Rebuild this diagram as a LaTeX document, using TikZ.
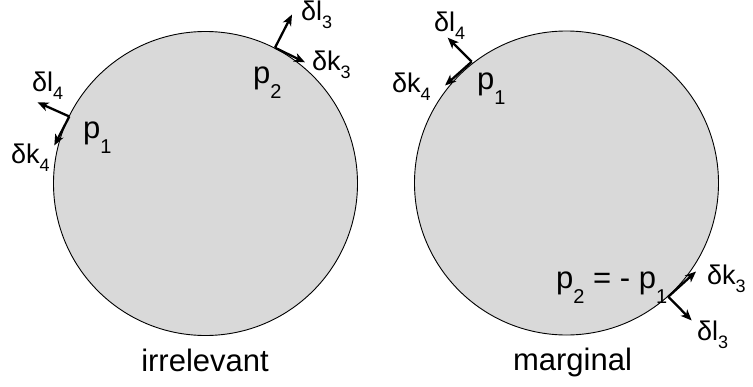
\documentclass[tikz,border=0pt]{standalone}
\usepackage{fontspec}
\setmainfont{Liberation Sans}
\usetikzlibrary{arrows.meta}
\definecolor{discfill}{RGB}{217,217,217}
\newcommand\dsub[1]{\raisebox{-0.3em}{\fontsize{18}{18}\selectfont #1}}
\newcommand\psub[1]{\raisebox{-0.5em}{\fontsize{20}{20}\selectfont #1}}
\begin{document}
\begin{tikzpicture}[x=1pt,y=-1pt,
  disc/.style={draw=black,line width=0.9pt,fill=discfill},
  vec/.style={line width=2.3pt,-{Stealth[length=11pt,width=9pt,inset=3pt]}},
  dlab/.style={inner sep=0pt,anchor=base west,font=\fontsize{27}{27}\selectfont},
  plab/.style={inner sep=0pt,anchor=base west,font=\fontsize{31}{31}\selectfont},
  captext/.style={inner sep=0pt,anchor=base,font=\fontsize{31}{31}\selectfont}]
\useasboundingbox (0,0) rectangle (753,386);
% discs
\node[disc,circle,minimum size=304pt,inner sep=0pt] (L) at (205.5,183.5) {};
\node[disc,circle,minimum size=304pt,inner sep=0pt] (R) at (566.5,183) {};
% left disc vectors
\coordinate (lp2) at (275,47.7);
\coordinate (ll3) at (292,14.5);
\coordinate (lk3) at (305,62.3);
\coordinate (lp1) at (69.3,116.5);
\coordinate (ll4) at (37.5,102.3);
\coordinate (lk4) at (54.3,145.5);
\draw[vec] (lp2) -- (ll3);
\draw[vec] (lp2) -- (lk3);
\draw[vec] (lp1) -- (ll4);
\draw[vec] (lp1) -- (lk4);
% right disc vectors
\coordinate (rp1) at (471.7,61.7);
\coordinate (rl4) at (447.7,37.7);
\coordinate (rk4) at (445,85.5);
\coordinate (rp2) at (668.3,296.7);
\coordinate (rk3) at (696,271.5);
\coordinate (rl3) at (691.7,320.5);
\draw[vec] (rp1) -- (rl4);
\draw[vec] (rp1) -- (rk4);
\draw[vec] (rp2) -- (rk3);
\draw[vec] (rp2) -- (rl3);
% left labels
\node[dlab] (tl3) at (301,20) {δl\dsub{3}};
\node[dlab] (tk3) at (312,70) {δk\dsub{3}};
\node[plab] (tp2) at (253,83) {p\psub{2}};
\node[dlab] (tl4) at (32,91) {δl\dsub{4}};
\node[dlab] (tk4) at (11,163) {δk\dsub{4}};
\node[plab] (tp1) at (83,138) {p\psub{1}};
\node[captext] (irr) at (205,371.5) {irrelevant};
% right labels
\node[dlab] (tl4r) at (434,31) {δl\dsub{4}};
\node[dlab] (tk4r) at (392,92) {δk\dsub{4}};
\node[plab] (tp1r) at (477,89) {p\psub{1}};
\node[plab] (tp2r) at (556,288) {p\psub{2} = - p\psub{1}};
\node[dlab] (tk3r) at (707,284) {δk\dsub{3}};
\node[dlab] (tl3r) at (697,340) {δl\dsub{3}};
\node[captext] (mar) at (572.5,370.5) {marginal};
\end{tikzpicture}
\end{document}
